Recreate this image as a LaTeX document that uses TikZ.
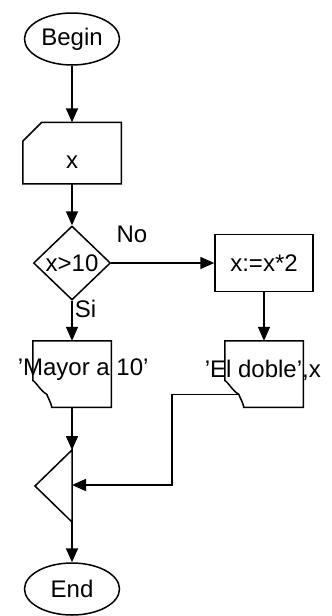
\documentclass[tikz,border=0pt]{standalone}
\usepackage{fontspec}
\setmainfont{Liberation Sans}
\usetikzlibrary{arrows.meta, shapes.geometric, positioning, calc}

\begin{document}
\begin{tikzpicture}[
  x=1pt, y=1pt,
  line width=1.5pt,
  every node/.style={font=\fontsize{24}{28}\selectfont},
  term/.style={draw, ellipse, minimum width=95pt, minimum height=52pt, inner sep=0pt},
  inbox/.style={minimum width=97pt, minimum height=60pt, inner sep=0pt},
  proc/.style={draw, minimum width=98pt, minimum height=57pt, inner sep=0pt},
  dec/.style={draw, diamond, minimum width=77pt, minimum height=74pt, inner sep=0pt},
  outbox/.style={minimum width=77pt, minimum height=65pt, inner sep=0pt},
  msg/.style={anchor=west, inner sep=0pt},
  arr/.style={-{Triangle[length=14pt, width=12pt]}},
  lbl/.style={inner sep=2pt},
]
\useasboundingbox (0,0) rectangle (332,-616);

% START AND INPUT
\node[term] (begin) at (72,-39) {Begin};
\node[inbox] (inp) at (72,-153) {};
\node (inptext) at ([yshift=-9pt]inp.center) {x};
\draw ([yshift=-19pt]inp.north west) -- ([xshift=19pt]inp.north west) -- (inp.north east)
  -- (inp.south east) -- (inp.south west) -- cycle;

% DECISION
\node[dec] (test) at (72,-263) {x>10};
\node[proc] (double) at (264,-263) {x:=x*2};

% OUTPUTS
\node[outbox] (out1) at (72,-374) {};
\node[outbox] (out2) at (264,-374) {};
\draw (out1.north west) -- (out1.north east) -- (out1.south east) -- ([xshift=19pt]out1.south west)
  to[out=100,in=-70] ([shift={(14pt,13pt)}]out1.south west) coordinate (tear1)
  to[out=150,in=-40] ([yshift=27pt]out1.south west) -- cycle;
\draw (out2.north west) -- (out2.north east) -- (out2.south east) -- ([xshift=19pt]out2.south west)
  to[out=100,in=-70] ([shift={(14pt,13pt)}]out2.south west) coordinate (tear2)
  to[out=150,in=-40] ([yshift=27pt]out2.south west) -- cycle;
\node[msg] (msg1) at (17,-370) {'Mayor a 10'};
\node[msg] (msg2) at (204,-370) {'El doble',x};

% JOIN AND END
\coordinate (jtop) at (72,-450);
\coordinate (jmid) at (72,-485);
\coordinate (jbot) at (72,-522);
\coordinate (jtip) at (35,-486);
\draw (jtop) -- (jtip) -- (jbot) -- cycle;
\node[term] (end) at (72,-589) {End};

\draw[arr] (begin) -- (inp.north);
\draw[arr] (inp.south) -- (test.north);
\draw[arr] (test.east) -- node[lbl, above, pos=0.2, yshift=18pt]{No} (double.west);
\draw[arr] (test.south) -- node[lbl, right, pos=0.2]{Si} (out1.north);
\draw[arr] (double.south) -- (out2.north);
\draw[arr] (out1.south) -- (jtop);
\draw[arr] (tear2) -| ([xshift=100pt]jmid) -- (jmid);
\draw[arr] (jbot) -- (end.north);

\end{tikzpicture}
\end{document}
